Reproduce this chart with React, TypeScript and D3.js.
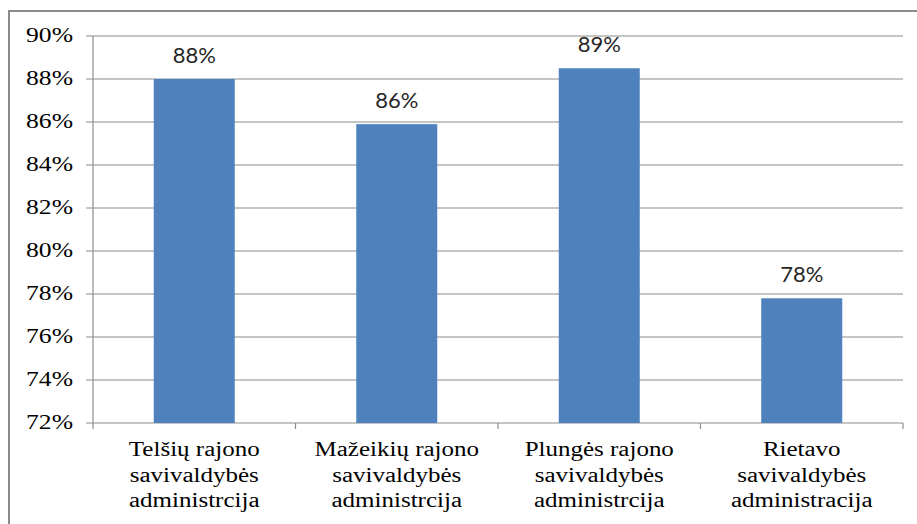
import React from "react";
import * as d3 from "d3";

const categories: string[][] = [
  ["Telšių rajono", "savivaldybės", "administrcija"],
  ["Mažeikių rajono", "savivaldybės", "administrcija"],
  ["Plungės rajono", "savivaldybės", "administrcija"],
  ["Rietavo", "savivaldybės", "administracija"],
];
const values: number[] = [88.0, 85.9, 88.5, 77.8];
const valueLabels: string[] = ["88%", "86%", "89%", "78%"];
const yTicks: number[] = [72, 74, 76, 78, 80, 82, 84, 86, 88, 90];

export default function App() {
  const W = 917, H = 524;
  const left = 93, right = 903, top = 36, bottom = 423;
  const x = d3.scaleBand<number>().domain(d3.range(categories.length)).range([left, right]).paddingInner(0.6).paddingOuter(0.3);
  const xc = d3.scaleBand<number>().domain(d3.range(categories.length)).range([left, right]);
  const y = d3.scaleLinear().domain([72, 90]).range([bottom, top]);
  const serif = "'Liberation Serif', 'Times New Roman', serif";
  const sans = "Lato, Carlito, 'Liberation Sans', sans-serif";
  const SX = 1.25;
  return (
    <svg width={W} height={H} style={{ position: "absolute", left: 0, top: 0, background: "#fff" }}>
      <rect x={9} y={11} width={1000} height={600} fill="#fff" stroke="#8a8a8a" strokeWidth={2} />
      {yTicks.map((t) => (
        <g key={t}>
          <line x1={left - 7} x2={right} y1={y(t)} y2={y(t)} stroke="#8c8c8c" strokeWidth={1.2} />
          <text
            transform={`translate(73,${y(t) + 5.5}) scale(${SX},1)`}
            textAnchor="end"
            fontFamily={serif}
            fontSize={20.5}
            fill="#000"
          >
            {t}%
          </text>
        </g>
      ))}
      <line x1={left} x2={left} y1={top} y2={bottom} stroke="#8c8c8c" strokeWidth={1.2} />
      {d3.range(categories.length + 1).map((i) => {
        const xx = left + i * xc.step();
        return <line key={i} x1={xx} x2={xx} y1={bottom} y2={bottom + 6} stroke="#8c8c8c" strokeWidth={1.2} />;
      })}
      {values.map((v, i) => (
        <g key={i}>
          <rect x={x(i)!} y={y(v)} width={x.bandwidth()} height={bottom - y(v)} fill="#4F81BD" />
          <text
            x={x(i)! + x.bandwidth() / 2}
            y={y(v) - 16}
            textAnchor="middle"
            fontFamily={sans}
            fontSize={22}
            fill="#262626"
          >
            {valueLabels[i]}
          </text>
        </g>
      ))}
      {categories.map((lines, i) =>
        lines.map((l, j) => (
          <text
            key={`${i}-${j}`}
            transform={`translate(${xc(i)! + xc.bandwidth() / 2},${456 + j * 25.5}) scale(${SX},1)`}
            textAnchor="middle"
            fontFamily={serif}
            fontSize={20}
            fill="#000"
          >
            {l}
          </text>
        ))
      )}
    </svg>
  );
}
